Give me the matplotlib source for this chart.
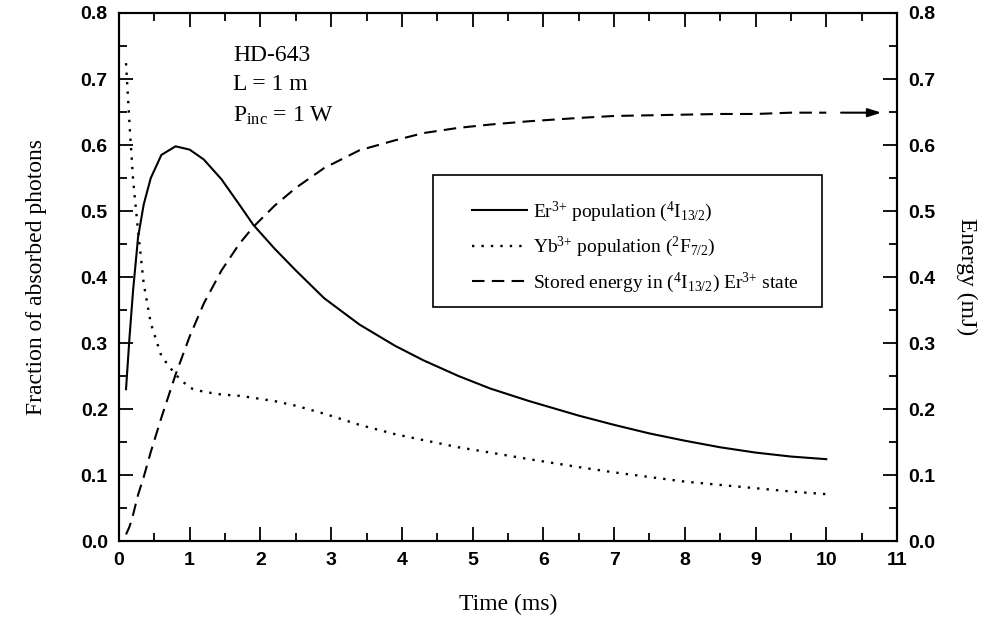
import matplotlib
matplotlib.use("Agg")
import matplotlib.pyplot as plt
from matplotlib.ticker import MultipleLocator
from matplotlib.patches import Rectangle

# ---- data ----
time_ms = [0.1, 0.15, 0.2, 0.27, 0.35, 0.45, 0.6, 0.8, 1.0, 1.2, 1.45, 1.7, 1.9,
           2.2, 2.5, 2.9, 3.4, 3.9, 4.3, 4.8, 5.25, 5.8, 6.5, 7.0, 7.5, 8.0,
           8.5, 9.0, 9.5, 10.0]
er_pop = [0.23, 0.31, 0.38, 0.46, 0.51, 0.55, 0.585, 0.598, 0.593, 0.578, 0.548,
          0.510, 0.479, 0.443, 0.410, 0.368, 0.328, 0.296, 0.274, 0.250, 0.231,
          0.212, 0.190, 0.176, 0.163, 0.152, 0.142, 0.134, 0.128, 0.124]
yb_pop = [0.724, 0.63, 0.547, 0.47, 0.39, 0.33, 0.28, 0.252, 0.232, 0.226, 0.222,
          0.220, 0.217, 0.212, 0.205, 0.193, 0.176, 0.162, 0.153, 0.142, 0.134,
          0.124, 0.112, 0.104, 0.097, 0.090, 0.085, 0.080, 0.075, 0.071]
energy_mj = [0.01, 0.022, 0.04, 0.07, 0.097, 0.135, 0.187, 0.252, 0.31, 0.36, 0.41,
             0.45, 0.476, 0.508, 0.535, 0.565, 0.592, 0.607, 0.618, 0.626, 0.631,
             0.636, 0.641, 0.644, 0.645, 0.646, 0.647, 0.647, 0.649, 0.649]
x_ticks = list(range(0, 12))
y_ticks = [0.0, 0.1, 0.2, 0.3, 0.4, 0.5, 0.6, 0.7, 0.8]
labels = ["Er$\\mathregular{^{3{+}}}$ population ($\\mathregular{^{4}}$I$\\mathregular{_{13/2}}$)",
          "Yb$\\mathregular{^{3{+}}}$ population ($\\mathregular{^{2}}$F$\\mathregular{_{7/2}}$)",
          "Stored energy in ($\\mathregular{^{4}}$I$\\mathregular{_{13/2}}$) Er$\\mathregular{^{3{+}}}$ state"]

serif = "Liberation Serif"
sans = "Liberation Sans"

fig = plt.figure(figsize=(9.88, 6.28), dpi=100)
ax = fig.add_axes([0.1204, 0.1385, 0.7875, 0.8408])
ax2 = ax.twinx()

l1, = ax.plot(time_ms, er_pop, color="black", lw=1.5, ls="-")
l2, = ax.plot(time_ms, yb_pop, color="black", lw=1.7, ls=(0, (1, 3)))
l3, = ax2.plot(time_ms, energy_mj, color="black", lw=1.5, ls=(0, (6, 3.5)))

for a in (ax, ax2):
    a.set_xlim(0, 11)
    a.set_ylim(0, 0.8)
    a.set_yticks(y_ticks)
    a.yaxis.set_minor_locator(MultipleLocator(0.05))
    for s in a.spines.values():
        s.set_linewidth(1.5)

ax.set_xticks(x_ticks)
ax.xaxis.set_minor_locator(MultipleLocator(0.5))
ax.tick_params(which="both", direction="in", top=True, width=1.3, pad=8)
ax.tick_params(which="major", length=10)
ax.tick_params(which="minor", length=6)
ax2.tick_params(which="both", direction="in", width=1.3, pad=8)
ax2.tick_params(which="major", length=10)
ax2.tick_params(which="minor", length=6)

tick_font = dict(fontfamily=sans, fontweight="bold", fontsize=14)
ax.set_xticklabels([str(v) for v in x_ticks], **tick_font)
ax.set_yticklabels([f"{v:.1f}" for v in y_ticks], **tick_font)
ax2.set_yticklabels([f"{v:.1f}" for v in y_ticks], **tick_font)

ax.set_xlabel("Time (ms)", fontfamily=serif, fontsize=17)
ax.set_ylabel("Fraction of absorbed photons", fontfamily=serif, fontsize=17)
ax2.set_ylabel("Energy (mJ)", fontfamily=serif, fontsize=17, rotation=270, va="center")
ax.xaxis.set_label_coords(0.5, -0.1)
ax.yaxis.set_label_coords(-0.092, 0.5)
ax2.yaxis.set_label_coords(1.09, 0.5)

ax.text(0.147, 0.94, "HD-643\nL = 1 m\nP$\\mathregular{_{inc}}$ = 1 W", transform=ax.transAxes,
        fontfamily=serif, fontsize=17, va="top", ha="left", linespacing=1.55)

ax2.annotate("", xy=(10.82, 0.649), xytext=(10.17, 0.649),
             arrowprops=dict(arrowstyle="-|>,head_length=0.8,head_width=0.25", color="black", lw=1.5))

# legend frame drawn separately
ax2.add_patch(Rectangle((0.4036, 0.4432), 0.5, 0.25, transform=ax2.transAxes,
                        fill=True, facecolor="white", edgecolor="black", lw=1.2, zorder=4))
leg = ax2.legend([l1, l2, l3], labels, loc="upper left", bbox_to_anchor=(0.4537, 0.647),
                 borderaxespad=0, frameon=False,
                 prop={"family": serif, "size": 14}, handlelength=2.85, handletextpad=0.3,
                 labelspacing=0.58, borderpad=0)
leg.set_zorder(5)

fig.savefig("out.png", dpi=100)
